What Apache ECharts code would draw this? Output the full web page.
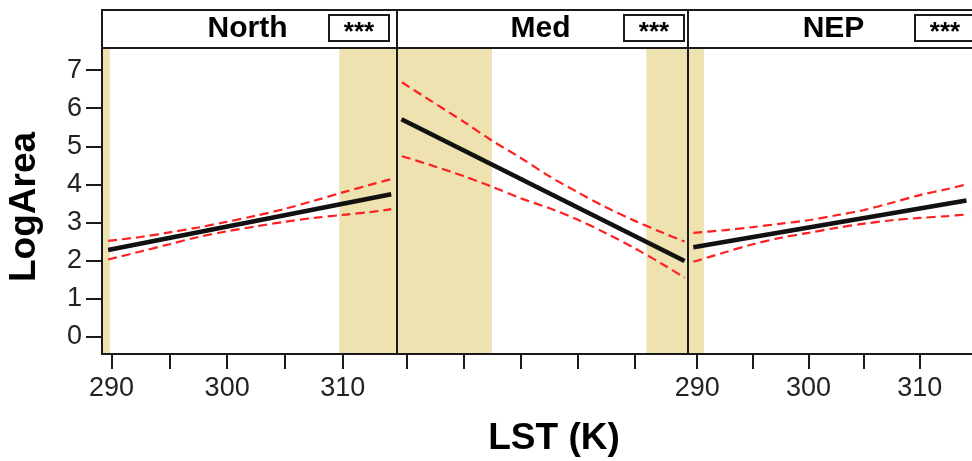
<!DOCTYPE html>
<html><head><meta charset="utf-8">
<script src="https://cdn.jsdelivr.net/npm/echarts@6/dist/echarts.min.js"></script>
<style>html,body{margin:0;padding:0;background:#fff}#c{width:972px;height:461px}</style>
</head><body><div id="c"></div>
<script>
// ---- data ----
const regions = ['North', 'Med', 'NEP'];
const significance = ['***', '***', '***'];
const xTickValues = [290, 295, 300, 305, 310];
const xLabelValues = [[290, 300, 310], [], [290, 300, 310]];
const yTickValues = [0, 1, 2, 3, 4, 5, 6, 7];

const northFit = [[289.7, 2.28], [314.2, 3.74]];
const northUpper = [[289.7,2.52],[292.5,2.62],[295,2.74],[297.5,2.87],[300,3.02],[302.5,3.18],[305,3.36],[307.5,3.57],[310,3.79],[312.5,4.00],[314.2,4.14]];
const northLower = [[289.7,2.03],[292.5,2.24],[295,2.43],[297.5,2.62],[300,2.77],[302.5,2.90],[305,3.02],[307.5,3.12],[310,3.20],[312.5,3.28],[314.2,3.35]];
const northShade = [[289.17, 289.85], [309.7, 314.7]];

const medFit = [[289.56, 5.71], [314.4, 1.99]];
const medUpper = [[289.6,6.68],[292,6.22],[295,5.65],[297.5,5.15],[300,4.70],[302.5,4.22],[305,3.80],[307.5,3.40],[310,3.05],[312.5,2.73],[314.4,2.50]];
const medLower = [[289.6,4.74],[292,4.52],[295,4.22],[297.5,3.94],[300,3.64],[302.5,3.38],[305,3.08],[307.5,2.72],[310,2.33],[312.5,1.90],[314.4,1.55]];
const medShade = [[289.17, 297.5], [311.05, 314.7]];

const nepFit = [[289.65, 2.35], [314.2, 3.58]];
const nepUpper = [[289.65,2.73],[292.5,2.80],[295,2.88],[297.5,2.97],[300,3.06],[302.5,3.19],[305,3.33],[307.5,3.52],[310,3.72],[312.5,3.88],[314.2,4.00]];
const nepLower = [[289.65,1.97],[292.5,2.22],[295,2.43],[297.5,2.60],[300,2.73],[302.5,2.86],[305,2.97],[307.5,3.06],[310,3.12],[312.5,3.17],[314.2,3.21]];
const nepShade = [[289.17, 290.6]];

const fits = [northFit, medFit, nepFit];
const uppers = [northUpper, medUpper, nepUpper];
const lowers = [northLower, medLower, nepLower];
const shades = [northShade, medShade, nepShade];

// ---- layout ----
const X_MIN = 289.17, X_MAX = 314.7, Y_MIN = -0.45, Y_MAX = 7.58;
const panels = [{left: 102, width: 295}, {left: 397, width: 291}, {left: 688, width: 295}];
const TOP = 48, HEIGHT = 306, STRIP_TOP = 10;
const FONT = 'Liberation Sans, Arial, Helvetica, sans-serif';
const INK = '#1a1a1a';
const TAN = '#EEE2B0';

const chart = echarts.init(document.getElementById('c'), null, {renderer: 'canvas'});

const grid = panels.map(p => ({left: p.left, top: TOP, width: p.width, height: HEIGHT, containLabel: false}));
const xAxis = panels.map((p, i) => ({
  gridIndex: i, type: 'value', min: X_MIN, max: X_MAX, z: 5,
  axisLine: {show: true, onZero: false, lineStyle: {color: INK, width: 2}},
  axisTick: {show: true, customValues: xTickValues, length: 15, lineStyle: {color: INK, width: 2}},
  axisLabel: {show: xLabelValues[i].length > 0, customValues: xLabelValues[i], fontSize: 27, color: '#222', margin: 21, fontFamily: FONT},
  splitLine: {show: false}
}));
const yAxis = panels.map((p, i) => ({
  gridIndex: i, type: 'value', min: Y_MIN, max: Y_MAX, z: 5,
  axisLine: {show: true, onZero: false, lineStyle: {color: INK, width: 2}},
  axisTick: {show: i === 0, customValues: yTickValues, length: 16, lineStyle: {color: INK, width: 2}},
  axisLabel: {show: i === 0, customValues: yTickValues, fontSize: 27, color: '#222', margin: 20, fontFamily: FONT},
  splitLine: {show: false}
}));

const series = [];
regions.forEach((r, i) => {
  series.push({
    type: 'line', xAxisIndex: i, yAxisIndex: i, z: 1, silent: true,
    data: fits[i], showSymbol: false, symbol: 'none', lineStyle: {opacity: 0},
    markArea: {silent: true, itemStyle: {color: TAN}, data: shades[i].map(s => [{xAxis: s[0]}, {xAxis: s[1]}])}
  });
  [uppers[i], lowers[i]].forEach(d => series.push({
    type: 'line', xAxisIndex: i, yAxisIndex: i, z: 3, silent: true, data: d,
    symbol: 'none', smooth: 0.3, lineStyle: {color: '#ff1f1f', width: 2.2, type: [9, 5]}
  }));
  series.push({
    type: 'line', xAxisIndex: i, yAxisIndex: i, z: 4, silent: true, data: fits[i],
    symbol: 'none', lineStyle: {color: '#111', width: 4.5}
  });
});

const graphic = [];
panels.forEach((p, i) => {
  graphic.push({type: 'rect', shape: {x: p.left, y: STRIP_TOP, width: p.width, height: TOP - STRIP_TOP},
    style: {fill: '#fff', stroke: INK, lineWidth: 2}, z: 10});
  graphic.push({type: 'text', x: p.left + p.width / 2 - 2, y: STRIP_TOP + 19,
    style: {text: regions[i], font: 'bold 30px ' + FONT, fill: '#000', align: 'center', verticalAlign: 'middle'}, z: 11});
  graphic.push({type: 'rect', shape: {x: p.left + 227, y: 15, width: 60, height: 26},
    style: {fill: '#fff', stroke: INK, lineWidth: 2}, z: 11});
  graphic.push({type: 'text', x: p.left + 257, y: 33,
    style: {text: significance[i], font: 'bold 26px ' + FONT, fill: '#000', align: 'center', verticalAlign: 'middle'}, z: 12});
});
graphic.push({type: 'text', x: 25, y: 207, rotation: Math.PI / 2,
  style: {text: 'LogArea', font: 'bold 37px ' + FONT, fill: '#000', align: 'center', verticalAlign: 'middle'}});
graphic.push({type: 'text', x: 554, y: 439,
  style: {text: 'LST (K)', font: 'bold 37px ' + FONT, fill: '#000', align: 'center', verticalAlign: 'middle'}});

chart.setOption({animation: false, backgroundColor: '#fff', grid, xAxis, yAxis, series, graphic});
</script></body></html>
